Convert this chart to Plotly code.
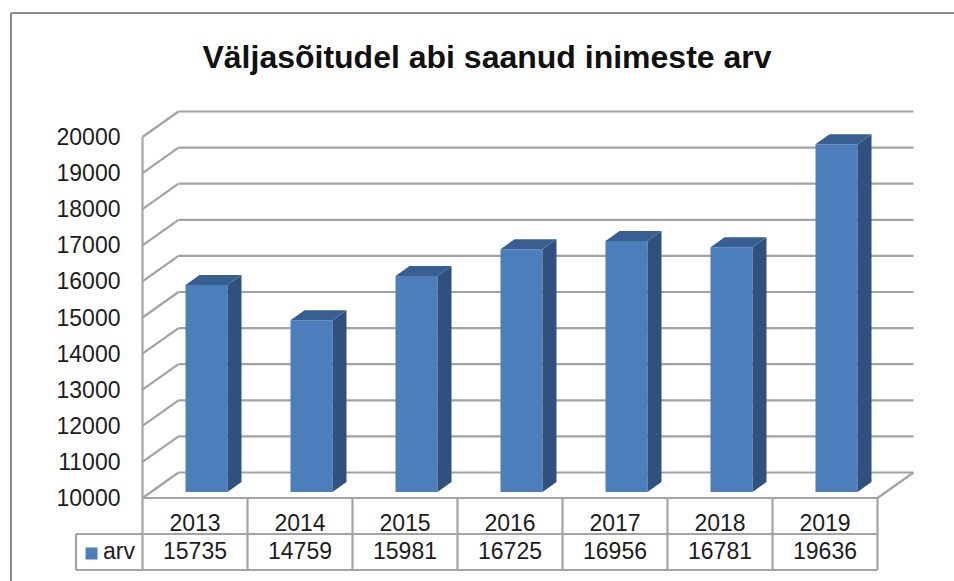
import plotly.graph_objects as go

years = ["2013", "2014", "2015", "2016", "2017", "2018", "2019"]
values = [15735, 14759, 15981, 16725, 16956, 16781, 19636]
y_ticks = [10000, 11000, 12000, 13000, 14000, 15000, 16000, 17000, 18000, 19000, 20000]
series_name = "arv"
title = "Väljasõitudel abi saanud inimeste arv"

FONT = "Liberation Sans"
GRID = "#a3a3a3"
TEXT = "#1c1c1c"
FRONT, SIDE, TOP = "#4d7ebc", "#30507e", "#385f92"

W, H = 954, 581
L, B = 142.5, 498          # front-left floor corner in page pixels
SLOT = 105                 # pixels per category
PER_1000 = 36.1            # pixels per 1000 units


def dx(px):
    return px / SLOT


def dv(px):
    return px / PER_1000 * 1000


def xp(px):
    return dx(px - L)


def vy(py):
    return y_ticks[0] + dv(B - py)


WALL_DX, WALL_DY = dx(36), dv(25.5)     # floor depth
BAR_SHIFT_X, BAR_SHIFT_V = dx(64) - 0.5, dv(6)
BAR_W = dx(42)
SIDE_DX, SIDE_DV = dx(14), dv(10)

fig = go.Figure()
shapes = []


def line(xs, ys, width=2.2, color=GRID):
    for a, b, c, d in zip(xs[:-1], ys[:-1], xs[1:], ys[1:]):
        shapes.append(dict(type="line", xref="x", yref="y", x0=a, y0=b, x1=c, y1=d, layer="below",
                           line=dict(color=color, width=width)))


n = len(years)
floor_v = y_ticks[0]
# gridlines: left wall diagonal + back wall line
for t in y_ticks:
    line([0, WALL_DX, n + WALL_DX], [t, t + WALL_DY, t + WALL_DY])
# left wall and floor edge
line([0, 0], [floor_v, y_ticks[-1]])
line([n, n + WALL_DX], [floor_v, floor_v + WALL_DY])

# data table
row1, row2 = vy(534), vy(570)
legend_x = xp(76)
line([0, n], [floor_v, floor_v])
line([legend_x, n], [row1, row1])
line([legend_x, n], [row2, row2])
line([legend_x, legend_x], [row1, row2])
for i in range(n + 1):
    line([i, i], [floor_v, row2])

# bars
centres = [i + 0.5 + BAR_SHIFT_X for i in range(n)]
base = floor_v + BAR_SHIFT_V
tops = [v + BAR_SHIFT_V for v in values]
fig.add_trace(go.Bar(x=centres, y=[v - floor_v for v in values], base=base, width=BAR_W,
                     marker=dict(color=FRONT, line=dict(width=0)), showlegend=False, name=series_name))
for c, t in zip(centres, tops):
    xr = c + BAR_W / 2
    xl = c - BAR_W / 2
    fig.add_trace(go.Scatter(x=[xr, xr + SIDE_DX, xr + SIDE_DX, xr, xr],
                             y=[base, base + SIDE_DV, t + SIDE_DV, t, base],
                             fill="toself", fillcolor=SIDE, mode="lines", line=dict(width=0, color=SIDE),
                             hoverinfo="skip", showlegend=False))
    fig.add_trace(go.Scatter(x=[xl, xl + SIDE_DX, xr + SIDE_DX, xr, xl],
                             y=[t, t + SIDE_DV, t + SIDE_DV, t, t],
                             fill="toself", fillcolor=TOP, mode="lines", line=dict(width=0, color=TOP),
                             hoverinfo="skip", showlegend=False))

# value row of the table
fig.add_trace(go.Scatter(x=[i + 0.5 for i in range(n)], y=[vy(553)] * n, mode="text",
                         text=[str(v) for v in values], showlegend=False, hoverinfo="skip",
                         textfont=dict(family=FONT, size=23, color=TEXT)))
# legend key in the table
fig.add_trace(go.Scatter(x=[xp(91.5)], y=[vy(553.5)], mode="markers", showlegend=False,
                         hoverinfo="skip", marker=dict(symbol="square", size=12, color=FRONT)))
fig.add_trace(go.Scatter(x=[xp(119)], y=[vy(553)], mode="text", text=[series_name],
                         showlegend=False, hoverinfo="skip", textfont=dict(family=FONT, size=23, color=TEXT)))

# chart frame
shapes.append(dict(type="line", xref="paper", yref="paper", x0=11 / W, x1=1, y0=1 - 13 / H, y1=1 - 13 / H,
                   line=dict(color="#8c8c8c", width=2)))
shapes.append(dict(type="line", xref="paper", yref="paper", x0=11 / W, x1=11 / W, y0=1 - 13 / H, y1=0,
                   line=dict(color="#8c8c8c", width=2)))

fig.update_layout(
    width=W, height=H, autosize=False,
    margin=dict(l=0, r=0, t=0, b=0, pad=0),
    paper_bgcolor="white", plot_bgcolor="white",
    barmode="overlay", showlegend=False,
    title=dict(text=title, x=487 / W, xanchor="center", y=1 - 57 / H, yanchor="middle",
               font=dict(family=FONT, size=32, color="#111111", weight="bold")),
    xaxis=dict(range=[xp(0), xp(W)], domain=[0, 1], anchor="free", position=1 - 507 / H,
               tickmode="array", tickvals=[i + 0.5 for i in range(n)], ticktext=years,
               showgrid=False, zeroline=False, showline=False, ticks="",
               tickfont=dict(family=FONT, size=23, color=TEXT)),
    yaxis=dict(range=[vy(H), vy(0)], domain=[0, 1], anchor="free", position=(L - 22) / W,
               tickmode="array", tickvals=y_ticks, ticktext=[str(t) for t in y_ticks],
               showgrid=False, zeroline=False, showline=False, ticks="",
               tickfont=dict(family=FONT, size=23, color=TEXT)),
    shapes=shapes,
)

fig.write_html("out.html", config={"displayModeBar": False},
               post_script="document.body.style.margin='0';document.body.style.overflow='hidden';")
